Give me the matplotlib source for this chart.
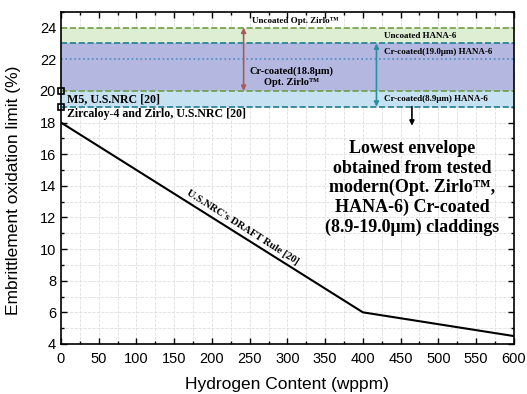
import matplotlib

matplotlib.use("Agg")
import matplotlib.pyplot as plt
from matplotlib.ticker import MultipleLocator

# NRC draft rule line
rule_h = [0, 400, 600]
rule_limit = [18, 6, 4.5]

# bands (lower, upper, colour)
band_lo = [23, 20, 19]
band_hi = [24, 23, 20]
band_col = ["#ddeed3", "#b4b8e0", "#c6e2f2"]

# reference lines (y, colour, style)
ref_y = [24, 23, 22, 20, 19]
ref_col = ["#6f9e45", "#1f7f8e", "#4d8cc0", "#6f9e45", "#1f7f8e"]
ref_ls = ["--", "--", ":", "--", "--"]

# NRC square markers
nrc_y = [20, 19]

serif = "Liberation Serif"
plt.rcParams["font.family"] = ["Liberation Sans", "DejaVu Sans"]

fig = plt.figure(figsize=(5.27, 3.94), dpi=100)
ax = fig.add_axes([0.1157, 0.127, 0.8593, 0.843])

for lo, hi, c in zip(band_lo, band_hi, band_col):
    ax.axhspan(lo, hi, color=c, zorder=1, lw=0)
for y, c, ls in zip(ref_y, ref_col, ref_ls):
    ax.axhline(y, color=c, ls=ls, lw=1.2, zorder=2)

ax.plot(rule_h, rule_limit, color="black", lw=1.5, zorder=3)
ax.plot([0] * len(nrc_y), nrc_y, ls="none", marker="s", ms=5, mfc="none",
        mec="black", mew=1.2, zorder=4, clip_on=False)

# arrows
ax.annotate("", xy=(242, 20), xytext=(242, 24),
            arrowprops=dict(arrowstyle="<|-|>", color="#a85a5a", lw=1.2,
                            mutation_scale=7, shrinkA=0, shrinkB=0))
ax.annotate("", xy=(418, 19), xytext=(418, 23),
            arrowprops=dict(arrowstyle="<|-|>", color="#2a8fa3", lw=1.2,
                            mutation_scale=7, shrinkA=0, shrinkB=0))
ax.annotate("", xy=(465, 17.8), xytext=(465, 19),
            arrowprops=dict(arrowstyle="-|>", color="black", lw=1.2,
                            mutation_scale=7, shrinkA=0, shrinkB=0))

kw = dict(family=[serif, "DejaVu Serif"], fontweight="bold", zorder=5)
ax.text(253, 24.45, "Uncoated Opt. Zirlo\u2122", fontsize=6.5, va="center", **kw)
ax.text(428, 23.5, "Uncoated HANA-6", fontsize=6.5, va="center", **kw)
ax.text(428, 22.45, "Cr-coated(19.0\u03bcm) HANA-6", fontsize=6.5, va="center", **kw)
ax.text(428, 19.5, "Cr-coated(8.9\u03bcm) HANA-6", fontsize=6.5, va="center", **kw)
ax.text(305, 20.9, "Cr-coated(18.8\u03bcm)\nOpt. Zirlo\u2122", fontsize=7.5,
        ha="center", va="center", linespacing=1.25, **kw)
ax.text(8, 19.5, "M5, U.S.NRC [20]", fontsize=8.6, va="center", **kw)
ax.text(8, 18.55, "Zircaloy-4 and Zirlo, U.S.NRC [20]", fontsize=8.6, va="center", **kw)
ax.text(465, 13.85, "Lowest envelope\nobtained from tested\nmodern(Opt. Zirlo\u2122,\n"
        "HANA-6) Cr-coated\n(8.9-19.0\u03bcm) claddings", fontsize=13, ha="center",
        va="center", linespacing=1.2, **kw)
ax.text(240, 11.35, "U.S.NRC's DRAFT Rule [20]", fontsize=7.6, ha="center",
        va="center", rotation=-32.5, rotation_mode="anchor", **kw)

ax.set_xlim(0, 600)
ax.set_ylim(4, 25)
ax.xaxis.set_major_locator(MultipleLocator(50))
ax.xaxis.set_minor_locator(MultipleLocator(25))
ax.yaxis.set_major_locator(MultipleLocator(2))
ax.yaxis.set_minor_locator(MultipleLocator(1))
ax.tick_params(which="both", direction="in", top=True, right=True, labelsize=10.5)
ax.tick_params(axis="x", pad=6)
ax.tick_params(which="major", length=4, width=1)
ax.tick_params(which="minor", length=2, width=1)
ax.grid(which="both", color="#dedede", ls="--", lw=0.6, zorder=0)
ax.set_axisbelow(True)
for s in ax.spines.values():
    s.set_linewidth(1.2)

ax.set_xlabel("Hydrogen Content (wppm)", fontsize=12.5, labelpad=8)
ax.set_ylabel("Embrittlement oxidation limit (%)", fontsize=12.5)
ax.yaxis.set_label_coords(-0.088, 0.464)

fig.savefig("out.png", dpi=100)
